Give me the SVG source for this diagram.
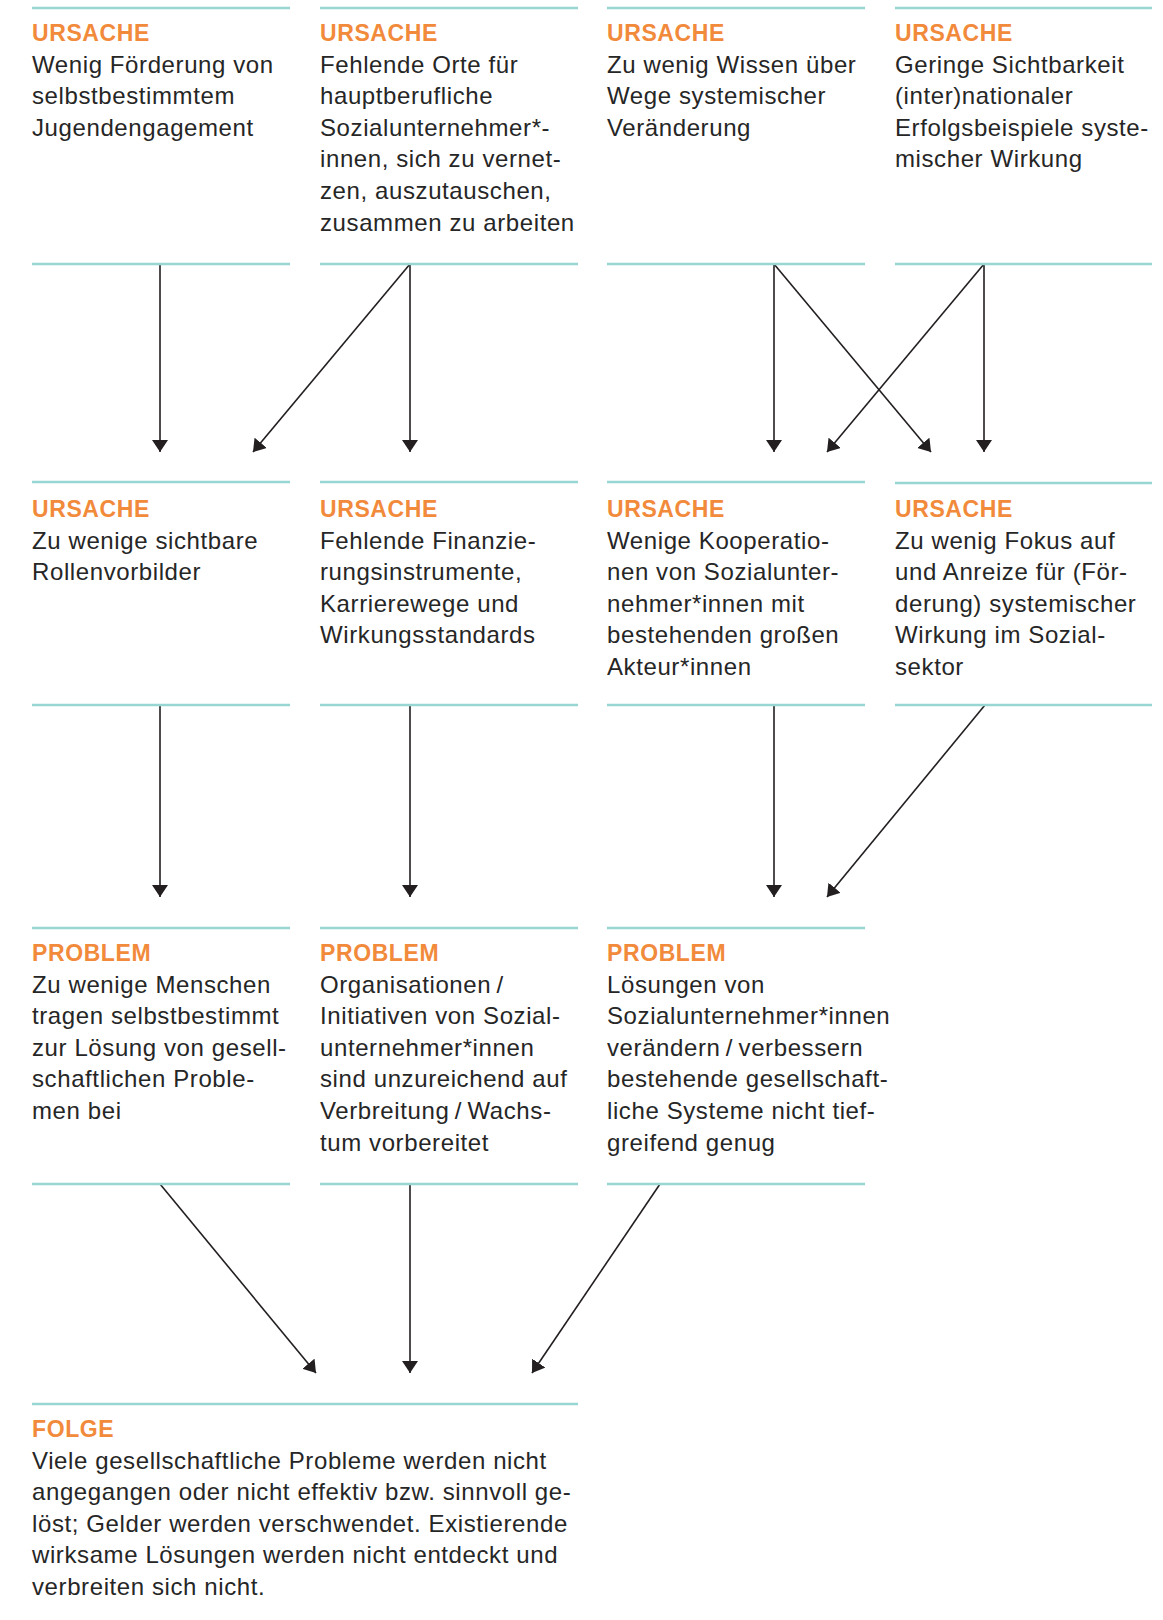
<svg xmlns="http://www.w3.org/2000/svg" width="1163" height="1620" viewBox="0 0 1163 1620">
<style>
.bg{fill:#ffffff}
.rule{stroke:#97d6d2;stroke-width:2.5;fill:none}
.lbl{font-family:"Liberation Sans",Arial,sans-serif;font-size:23px;font-weight:700;fill:#f28a3b;letter-spacing:0.6px}
.txt{font-family:"Liberation Sans",Arial,sans-serif;font-size:24px;fill:#262626;letter-spacing:0.6px}
.con{stroke:#231f20;stroke-width:1.6;fill:none;marker-end:url(#ah)}
</style>
<defs>
<marker id="ah" markerUnits="userSpaceOnUse" viewBox="0 0 12 16" refX="12" refY="8" markerWidth="12" markerHeight="16" orient="auto">
<path d="M0,0 L12,8 L0,16 z" fill="#231f20"/>
</marker>
</defs>
<rect class="bg" x="0" y="0" width="1163" height="1620"/>

<g id="connectors">
<line class="con" x1="160" y1="264" x2="160" y2="452"/>
<line class="con" x1="410" y1="264" x2="410" y2="452"/>
<line class="con" x1="410" y1="264" x2="253" y2="452"/>
<line class="con" x1="774" y1="264" x2="774" y2="452"/>
<line class="con" x1="774" y1="264" x2="931" y2="452"/>
<line class="con" x1="984" y1="264" x2="984" y2="452"/>
<line class="con" x1="984" y1="264" x2="827" y2="452"/>
<line class="con" x1="160" y1="705" x2="160" y2="897"/>
<line class="con" x1="410" y1="705" x2="410" y2="897"/>
<line class="con" x1="774" y1="705" x2="774" y2="897"/>
<line class="con" x1="985" y1="705" x2="827" y2="897"/>
<line class="con" x1="160" y1="1184" x2="316" y2="1373"/>
<line class="con" x1="410" y1="1184" x2="410" y2="1373"/>
<line class="con" x1="660" y1="1184" x2="532" y2="1373"/>
</g>

<g id="u1">
<line class="rule" x1="32" y1="8" x2="290" y2="8"/>
<line class="rule" x1="32" y1="264" x2="290" y2="264"/>
<text class="lbl" x="32" y="40.5">URSACHE</text>
<text class="txt" x="32" y="72.5"><tspan x="32">Wenig Förderung von</tspan><tspan x="32" dy="31.6">selbstbestimmtem</tspan><tspan x="32" dy="31.6">Jugendengagement</tspan></text>
</g>
<g id="u2">
<line class="rule" x1="320" y1="8" x2="578" y2="8"/>
<line class="rule" x1="320" y1="264" x2="578" y2="264"/>
<text class="lbl" x="320" y="40.5">URSACHE</text>
<text class="txt" x="320" y="72.5"><tspan x="320">Fehlende Orte für</tspan><tspan x="320" dy="31.6">hauptberufliche</tspan><tspan x="320" dy="31.6">Sozialunternehmer*-</tspan><tspan x="320" dy="31.6">innen, sich zu vernet-</tspan><tspan x="320" dy="31.6">zen, auszutauschen,</tspan><tspan x="320" dy="31.6">zusammen zu arbeiten</tspan></text>
</g>
<g id="u3">
<line class="rule" x1="607" y1="8" x2="865" y2="8"/>
<line class="rule" x1="607" y1="264" x2="865" y2="264"/>
<text class="lbl" x="607" y="40.5">URSACHE</text>
<text class="txt" x="607" y="72.5"><tspan x="607">Zu wenig Wissen über</tspan><tspan x="607" dy="31.6">Wege systemischer</tspan><tspan x="607" dy="31.6">Veränderung</tspan></text>
</g>
<g id="u4">
<line class="rule" x1="895" y1="8" x2="1152" y2="8"/>
<line class="rule" x1="895" y1="264" x2="1152" y2="264"/>
<text class="lbl" x="895" y="40.5">URSACHE</text>
<text class="txt" x="895" y="72.5"><tspan x="895">Geringe Sichtbarkeit</tspan><tspan x="895" dy="31.6">(inter)nationaler</tspan><tspan x="895" dy="31.6">Erfolgsbeispiele syste-</tspan><tspan x="895" dy="31.6">mischer Wirkung</tspan></text>
</g>

<g id="u5">
<line class="rule" x1="32" y1="482" x2="290" y2="482"/>
<line class="rule" x1="32" y1="705" x2="290" y2="705"/>
<text class="lbl" x="32" y="516.5">URSACHE</text>
<text class="txt" x="32" y="548.5"><tspan x="32">Zu wenige sichtbare</tspan><tspan x="32" dy="31.6">Rollenvorbilder</tspan></text>
</g>
<g id="u6">
<line class="rule" x1="320" y1="482" x2="578" y2="482"/>
<line class="rule" x1="320" y1="705" x2="578" y2="705"/>
<text class="lbl" x="320" y="516.5">URSACHE</text>
<text class="txt" x="320" y="548.5"><tspan x="320">Fehlende Finanzie-</tspan><tspan x="320" dy="31.6">rungsinstrumente,</tspan><tspan x="320" dy="31.6">Karrierewege und</tspan><tspan x="320" dy="31.6">Wirkungsstandards</tspan></text>
</g>
<g id="u7">
<line class="rule" x1="607" y1="482" x2="865" y2="482"/>
<line class="rule" x1="607" y1="705" x2="865" y2="705"/>
<text class="lbl" x="607" y="516.5">URSACHE</text>
<text class="txt" x="607" y="548.5"><tspan x="607">Wenige Kooperatio-</tspan><tspan x="607" dy="31.6">nen von Sozialunter-</tspan><tspan x="607" dy="31.6">nehmer*innen mit</tspan><tspan x="607" dy="31.6">bestehenden großen</tspan><tspan x="607" dy="31.6">Akteur*innen</tspan></text>
</g>
<g id="u8">
<line class="rule" x1="895" y1="483" x2="1152" y2="483"/>
<line class="rule" x1="895" y1="705" x2="1152" y2="705"/>
<text class="lbl" x="895" y="516.5">URSACHE</text>
<text class="txt" x="895" y="548.5"><tspan x="895">Zu wenig Fokus auf</tspan><tspan x="895" dy="31.6">und Anreize für (För-</tspan><tspan x="895" dy="31.6">derung) systemischer</tspan><tspan x="895" dy="31.6">Wirkung im Sozial-</tspan><tspan x="895" dy="31.6">sektor</tspan></text>
</g>

<g id="p1">
<line class="rule" x1="32" y1="928" x2="290" y2="928"/>
<line class="rule" x1="32" y1="1184" x2="290" y2="1184"/>
<text class="lbl" x="32" y="960.5">PROBLEM</text>
<text class="txt" x="32" y="992.5"><tspan x="32">Zu wenige Menschen</tspan><tspan x="32" dy="31.6">tragen selbstbestimmt</tspan><tspan x="32" dy="31.6">zur Lösung von gesell-</tspan><tspan x="32" dy="31.6">schaftlichen Proble-</tspan><tspan x="32" dy="31.6">men bei</tspan></text>
</g>
<g id="p2">
<line class="rule" x1="320" y1="928" x2="578" y2="928"/>
<line class="rule" x1="320" y1="1184" x2="578" y2="1184"/>
<text class="lbl" x="320" y="960.5">PROBLEM</text>
<text class="txt" x="320" y="992.5"><tspan x="320">Organisationen&#8201;/</tspan><tspan x="320" dy="31.6">Initiativen von Sozial-</tspan><tspan x="320" dy="31.6">unternehmer*innen</tspan><tspan x="320" dy="31.6">sind unzureichend auf</tspan><tspan x="320" dy="31.6">Verbreitung&#8201;/&#8201;Wachs-</tspan><tspan x="320" dy="31.6">tum vorbereitet</tspan></text>
</g>
<g id="p3">
<line class="rule" x1="607" y1="928" x2="865" y2="928"/>
<line class="rule" x1="607" y1="1184" x2="865" y2="1184"/>
<text class="lbl" x="607" y="960.5">PROBLEM</text>
<text class="txt" x="607" y="992.5"><tspan x="607">Lösungen von</tspan><tspan x="607" dy="31.6">Sozialunternehmer*innen</tspan><tspan x="607" dy="31.6">verändern&#8201;/&#8201;verbessern</tspan><tspan x="607" dy="31.6">bestehende gesellschaft-</tspan><tspan x="607" dy="31.6">liche Systeme nicht tief-</tspan><tspan x="607" dy="31.6">greifend genug</tspan></text>
</g>

<g id="folge">
<line class="rule" x1="32" y1="1404" x2="578" y2="1404"/>
<text class="lbl" x="32" y="1436.5">FOLGE</text>
<text class="txt" x="32" y="1468.5"><tspan x="32">Viele gesellschaftliche Probleme werden nicht</tspan><tspan x="32" dy="31.6">angegangen oder nicht effektiv bzw. sinnvoll ge-</tspan><tspan x="32" dy="31.6">löst; Gelder werden verschwendet. Existierende</tspan><tspan x="32" dy="31.6">wirksame Lösungen werden nicht entdeckt und</tspan><tspan x="32" dy="31.6">verbreiten sich nicht.</tspan></text>
</g>
</svg>
